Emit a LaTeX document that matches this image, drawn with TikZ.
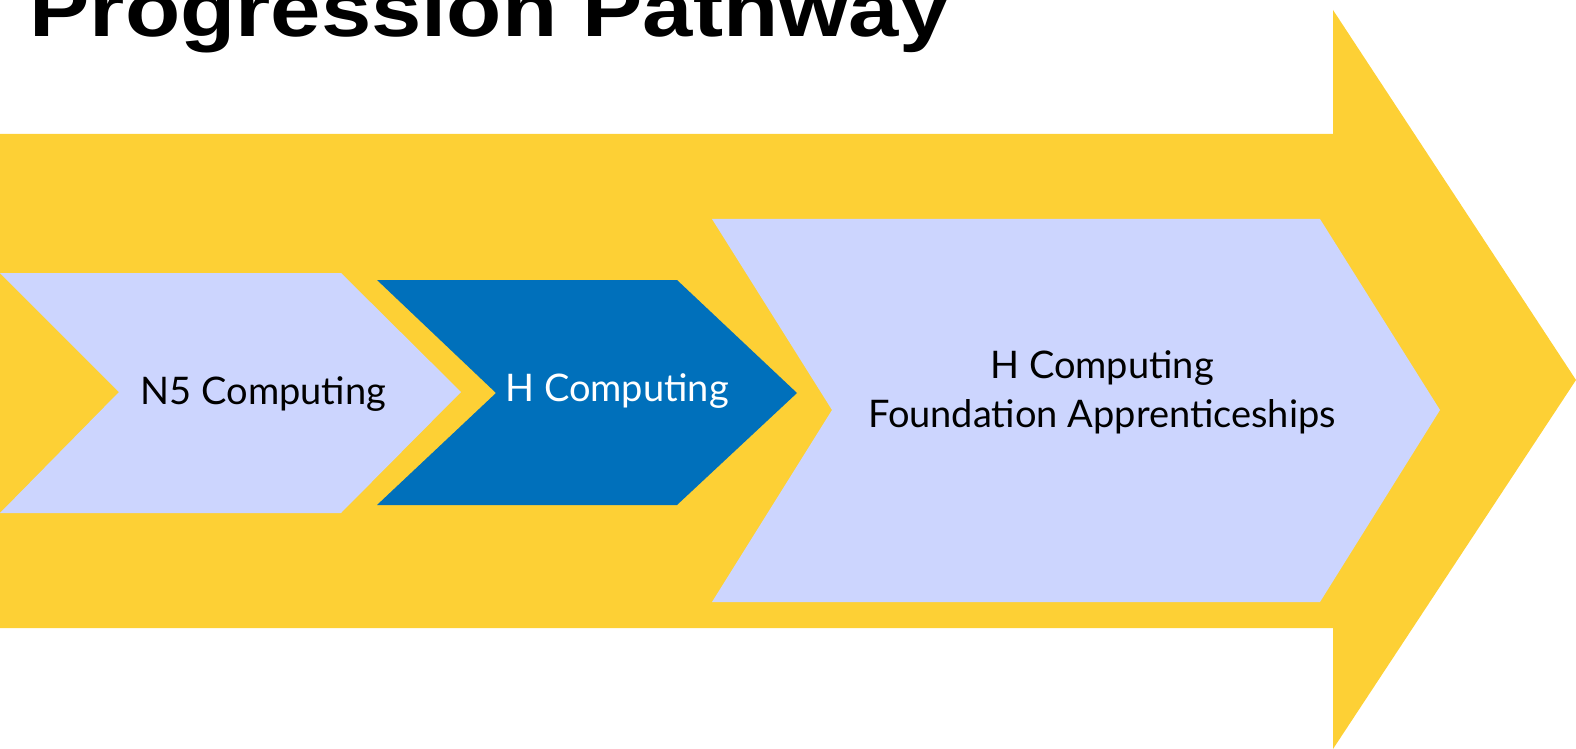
\documentclass[tikz,border=0pt]{standalone}
\usepackage{fontspec}
\setmainfont{Lato}
\newfontfamily\titlefont{Liberation Sans}
\definecolor{arrowyellow}{HTML}{FDD035}
\definecolor{stagelilac}{HTML}{CCD5FE}
\definecolor{stageblue}{HTML}{0070BB}
\tikzset{stagetext/.style={font=\fontsize{19}{24.5}\selectfont, align=center, inner sep=0}}
\begin{document}
\begin{tikzpicture}[x=0.5pt, y=-0.5pt]
\useasboundingbox (0,0) rectangle (1576,749);
\clip (0,0) rectangle (1576,749);
\node[anchor=base west, inner sep=0, xscale=1.16, font=\titlefont\bfseries\fontsize{39}{40}\selectfont] (title) at (29,37) {Progression Pathway};
\fill[arrowyellow](0,134)--(1333,134)--(1333,10)--(1576,380)--(1333,749)--(1333,628)--(0,628)--cycle;
\fill[stagelilac](0,273)--(341,273)--(461,392)--(341,513)--(0,513)--(119,392)--cycle;
\fill[stageblue](377,280)--(677,280)--(797,393)--(677,505)--(377,505)--(496,393)--cycle;
\fill[stagelilac](712,219)--(1320,219)--(1440,410)--(1320,602)--(712,602)--(832,410)--cycle;
\node[stagetext, anchor=base] (nfive) at (263.5,404) {N5 Computing};
\node[stagetext, anchor=base, text=white] (higher) at (617,401) {H Computing};
\node[stagetext, anchor=base] (found) at (1102,427) {H Computing\\Foundation Apprenticeships};
\end{tikzpicture}
\end{document}
